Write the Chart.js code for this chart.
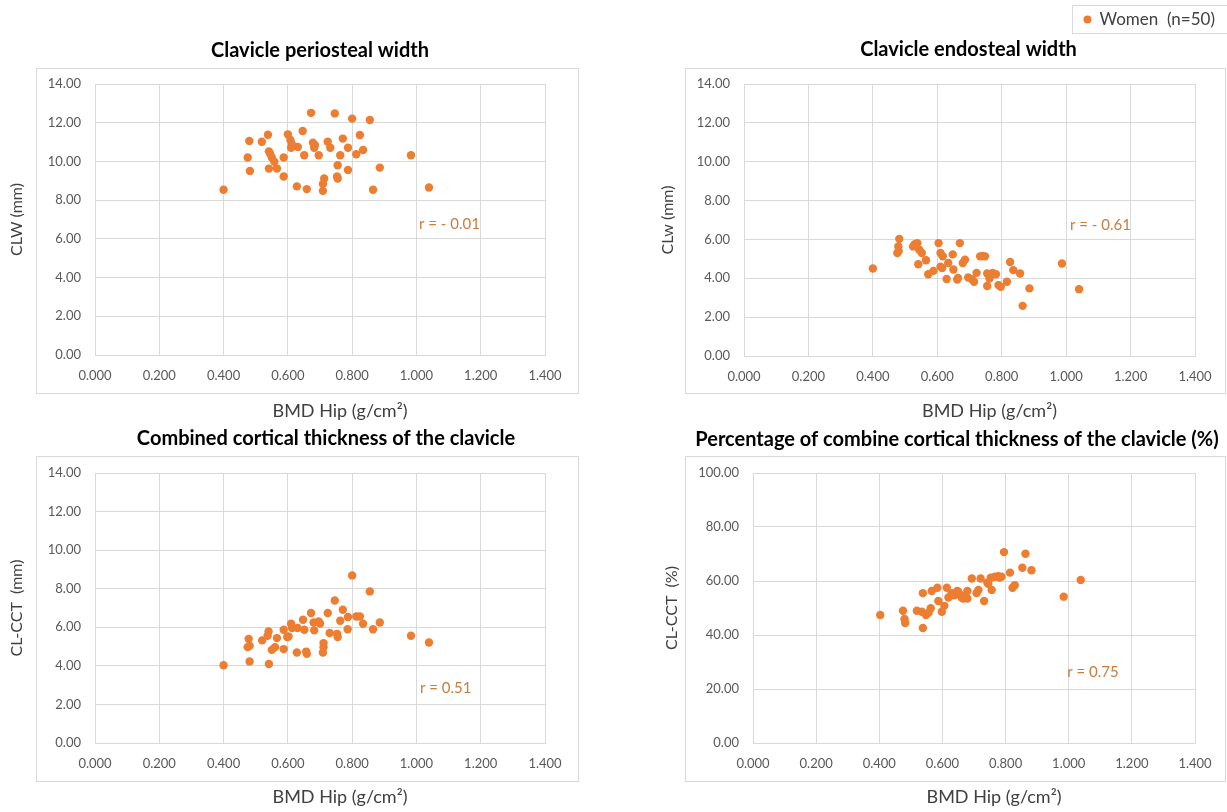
<!DOCTYPE html>
<html>
<head>
<meta charset="utf-8">
<title>BMD Hip and clavicle measures</title>
<script src="https://cdn.jsdelivr.net/npm/chart.js@4.4.0/dist/chart.umd.min.js"></script>
<style>
  html, body { margin: 0; padding: 0; background: #fff; }
  body { position: relative; width: 1227px; height: 812px; overflow: hidden; }
  canvas { position: absolute; }
</style>
</head>
<body>
<canvas id="periosteal" width="613" height="425" style="left:0;top:0"></canvas>
<canvas id="endosteal" width="614" height="425" style="left:613px;top:0"></canvas>
<canvas id="combined" width="613" height="387" style="left:0;top:425px"></canvas>
<canvas id="percent" width="614" height="387" style="left:613px;top:425px"></canvas>
<script>
// Women (n=50): BMD Hip (g/cm2) against four clavicle measures

// Clavicle periosteal width (CLW, mm)
const bmdPeriosteal = [0.400, 0.480, 0.475, 0.482, 0.519, 0.538, 0.541, 0.550, 0.558, 0.566,
  0.541, 0.587, 0.587, 0.600, 0.608, 0.610, 0.631, 0.646, 0.651, 0.628,
  0.659, 0.672, 0.678, 0.682, 0.696, 0.713, 0.709, 0.709, 0.724, 0.732,
  0.746, 0.771, 0.763, 0.755, 0.753, 0.755, 0.787, 0.787, 0.800, 0.813,
  0.824, 0.834, 0.855, 0.865, 0.886, 0.983, 1.039, 0.612, 0.684, 0.545];
const periostealWidth = [8.54, 11.06, 10.20, 9.51, 11.02, 11.38, 10.52, 10.20, 9.98, 9.63,
  9.63, 10.20, 9.22, 11.40, 11.11, 10.71, 10.75, 11.57, 10.32, 8.71,
  8.57, 12.51, 10.97, 10.71, 10.32, 9.12, 8.83, 8.48, 11.02, 10.71,
  12.48, 11.18, 10.32, 9.80, 9.22, 9.12, 10.71, 9.56, 12.21, 10.37,
  11.37, 10.59, 12.14, 8.54, 9.68, 10.32, 8.65, 10.90, 10.85, 10.40];

// Clavicle endosteal width (CLw, mm)
const bmdEndosteal = [0.400, 0.482, 0.479, 0.476, 0.480, 0.525, 0.538, 0.544, 0.552, 0.541,
  0.565, 0.572, 0.588, 0.604, 0.610, 0.617, 0.615, 0.629, 0.634, 0.648,
  0.650, 0.662, 0.670, 0.679, 0.686, 0.696, 0.714, 0.722, 0.733, 0.748,
  0.755, 0.762, 0.772, 0.782, 0.755, 0.790, 0.797, 0.816, 0.826, 0.836,
  0.857, 0.886, 0.865, 0.987, 1.040, 0.664, 0.740, 0.530, 0.708, 0.610];
const endostealWidth = [4.50, 6.03, 5.64, 5.30, 5.40, 5.64, 5.81, 5.47, 5.30, 4.72,
  4.93, 4.21, 4.38, 5.81, 5.30, 5.13, 4.53, 3.96, 4.79, 5.23,
  4.45, 3.94, 5.81, 4.79, 4.96, 4.04, 3.82, 4.28, 5.13, 5.13,
  4.25, 3.99, 4.28, 4.21, 3.60, 3.65, 3.56, 3.82, 4.84, 4.42,
  4.25, 3.48, 2.58, 4.76, 3.44, 4.02, 5.15, 5.75, 3.95, 4.60];

// Combined cortical thickness (CL-CCT, mm)
const bmdCombined = [0.400, 0.481, 0.478, 0.475, 0.481, 0.541, 0.520, 0.540, 0.537, 0.566,
  0.550, 0.560, 0.587, 0.587, 0.602, 0.610, 0.613, 0.630, 0.647, 0.651,
  0.628, 0.657, 0.659, 0.672, 0.680, 0.682, 0.696, 0.711, 0.711, 0.709,
  0.724, 0.730, 0.746, 0.753, 0.755, 0.763, 0.771, 0.786, 0.787, 0.800,
  0.813, 0.824, 0.834, 0.855, 0.865, 0.886, 0.983, 1.039, 0.598, 0.700];
const combinedThickness = [4.03, 4.23, 5.40, 4.97, 5.04, 4.10, 5.32, 5.78, 5.56, 5.44,
  4.83, 4.97, 4.87, 5.87, 5.52, 6.18, 5.96, 5.96, 6.39, 5.87,
  4.69, 4.74, 4.62, 6.74, 6.25, 5.84, 6.30, 5.18, 4.97, 4.69,
  6.74, 5.70, 7.39, 5.66, 5.49, 6.34, 6.91, 5.90, 6.53, 8.69,
  6.56, 6.56, 6.18, 7.86, 5.90, 6.25, 5.56, 5.21, 5.50, 6.20];

// Percentage of combined cortical thickness (CL-CCT, %)
const bmdPercent = [0.403, 0.475, 0.480, 0.482, 0.519, 0.535, 0.548, 0.538, 0.538, 0.563,
  0.566, 0.584, 0.587, 0.598, 0.606, 0.614, 0.619, 0.629, 0.637, 0.647,
  0.654, 0.661, 0.666, 0.679, 0.679, 0.693, 0.708, 0.714, 0.721, 0.732,
  0.742, 0.756, 0.753, 0.766, 0.777, 0.787, 0.795, 0.814, 0.822, 0.829,
  0.853, 0.863, 0.882, 0.984, 1.038, 0.666, 0.650, 0.781, 0.745, 0.556];
const percentThickness = [47.4, 49.0, 45.9, 44.4, 49.0, 48.6, 47.4, 42.6, 55.5, 49.9,
  56.3, 57.5, 52.6, 48.6, 50.8, 57.5, 53.9, 55.5, 54.7, 56.3,
  55.1, 53.9, 54.5, 56.3, 53.5, 60.9, 55.5, 56.7, 60.9, 52.6,
  59.4, 56.7, 61.2, 61.6, 61.8, 61.6, 70.7, 63.1, 57.5, 58.4,
  64.9, 70.1, 64.0, 54.2, 60.4, 53.5, 56.0, 61.3, 59.0, 48.2];

const bmdTicks = { min: 0, max: 1.4, step: 0.2 };
const mmTicks = { min: 0, max: 14, step: 2 };
const pctTicks = { min: 0, max: 100, step: 20 };

const orange = '#ED7D31';
const gridGray = '#d9d9d9';
const tickGray = '#595959';
const textGray = '#404040';
const noteColor = '#C97C3E';
const fontFamily = 'Lato, "Open Sans", sans-serif';

// Frame, panel title, x axis title, r value and legend
const panelDecor = {
  id: 'panelDecor',
  afterDraw(chart, args, opts) {
    const ctx = chart.ctx;
    const area = chart.chartArea;
    const cx = (area.left + area.right) / 2;
    ctx.save();

    ctx.strokeStyle = gridGray;
    ctx.lineWidth = 1;
    ctx.strokeRect(opts.frame[0], opts.frame[1], opts.frame[2], opts.frame[3]);

    ctx.textAlign = 'center';
    ctx.textBaseline = 'middle';
    ctx.fillStyle = '#000';
    ctx.font = 'bold 20px ' + fontFamily;
    ctx.fillText(opts.title, cx + opts.titleDx, opts.titleY);

    ctx.fillStyle = textGray;
    ctx.font = '18px ' + fontFamily;
    ctx.fillText('BMD Hip (g/cm\u00B2)', cx + 20, opts.xTitleY);

    // correlation note, placed in data units
    ctx.textAlign = 'left';
    ctx.fillStyle = noteColor;
    ctx.font = '15px ' + fontFamily;
    ctx.fillText(opts.note, chart.scales.x.getPixelForValue(opts.noteAt[0]),
      chart.scales.y.getPixelForValue(opts.noteAt[1]));

    if (opts.legend) {
      const lg = opts.legend;
      ctx.strokeStyle = gridGray;
      ctx.strokeRect(lg.x, lg.y, lg.w, lg.h);
      ctx.fillStyle = orange;
      ctx.beginPath();
      ctx.arc(lg.x + 15, lg.y + lg.h / 2, 4, 0, Math.PI * 2);
      ctx.fill();
      ctx.fillStyle = textGray;
      ctx.font = '17px ' + fontFamily;
      ctx.fillText(lg.text, lg.x + 27, lg.y + lg.h / 2);
    }
    ctx.restore();
  }
};

function tickFont() {
  return { family: fontFamily, size: 13 };
}

function scatterPanel(id, xs, ys, yRange, yTitle, pad, yWidth, decor) {
  const ctx = document.getElementById(id);
  if (!ctx) return null;
  const points = xs.map((x, i) => ({ x: x, y: ys[i] }));

  return new Chart(ctx, {
    type: 'scatter',
    data: {
      datasets: [{
        label: 'Women  (n=50)',
        data: points,
        backgroundColor: orange,
        borderColor: orange,
        borderWidth: 0,
        pointRadius: 4.2,
        pointHoverRadius: 4.2
      }]
    },
    options: {
      responsive: false,
      animation: false,
      layout: { padding: pad },
      plugins: {
        legend: { display: false },
        tooltip: { enabled: false },
        panelDecor: decor
      },
      scales: {
        x: {
          type: 'linear',
          min: bmdTicks.min,
          max: bmdTicks.max,
          afterFit: s => { s.height = 30; },
          ticks: {
            stepSize: bmdTicks.step,
            padding: 13,
            color: tickGray,
            font: tickFont(),
            callback: v => Number(v).toFixed(3)
          },
          grid: { color: gridGray, drawTicks: false },
          border: { color: gridGray }
        },
        y: {
          min: yRange.min,
          max: yRange.max,
          afterFit: s => { s.width = yWidth; },
          ticks: {
            stepSize: yRange.step,
            padding: 14,
            color: tickGray,
            font: tickFont(),
            callback: v => Number(v).toFixed(2)
          },
          grid: { color: gridGray, drawTicks: false },
          border: { color: gridGray },
          title: {
            display: true,
            text: yTitle,
            color: textGray,
            padding: { top: 2, bottom: 4 },
            font: { family: fontFamily, size: 16 }
          }
        }
      }
    },
    plugins: [panelDecor]
  });
}

scatterPanel('periosteal', bmdPeriosteal, periostealWidth, mmTicks, 'CLW (mm)',
  { left: 5, top: 84, right: 68, bottom: 40 }, 90, {
    frame: [36.5, 68.5, 542, 325],
    title: 'Clavicle periosteal width', titleDx: 0, titleY: 51, xTitleY: 411,
    note: 'r = - 0.01', noteAt: [1.008, 6.77]
  });

scatterPanel('endosteal', bmdEndosteal, endostealWidth, mmTicks, 'CLw (mm)',
  { left: 43, top: 84, right: 32, bottom: 39 }, 88, {
    frame: [72.5, 68.5, 540, 325],
    title: 'Clavicle endosteal width', titleDx: -1, titleY: 50, xTitleY: 411,
    note: 'r = - 0.61', noteAt: [1.012, 6.71],
    legend: { x: 459.5, y: 5.5, w: 170, h: 28, text: 'Women  (n=50)' }
  });

scatterPanel('combined', bmdCombined, combinedThickness, mmTicks, 'CL-CCT  (mm)',
  { left: 5, top: 48, right: 68, bottom: 39 }, 90, {
    frame: [36.5, 31.5, 542, 325],
    title: 'Combined cortical thickness of the clavicle', titleDx: 6, titleY: 14, xTitleY: 372,
    note: 'r = 0.51', noteAt: [1.011, 2.86]
  });

scatterPanel('percent', bmdPercent, percentThickness, pctTicks, 'CL-CCT  (%)',
  { left: 47, top: 48, right: 32, bottom: 39 }, 93, {
    frame: [72.5, 31.5, 540, 325],
    title: 'Percentage of combine cortical thickness of the clavicle (%)', titleDx: -17, titleY: 15, xTitleY: 372,
    note: 'r = 0.75', noteAt: [0.995, 26.3]
  });
</script>
</body>
</html>
